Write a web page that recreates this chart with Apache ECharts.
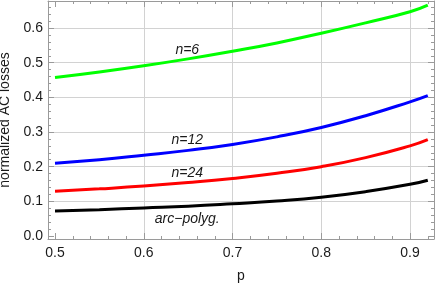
<!DOCTYPE html>
<html>
<head>
<meta charset="utf-8">
<script src="https://cdn.jsdelivr.net/npm/echarts@6/dist/echarts.min.js"></script>
<style>
html,body{margin:0;padding:0;background:#fff;}
#chart{width:436px;height:286px;}
</style>
</head>
<body>
<div id="chart"></div>
<script>
// ---- data ----
const pValues = [0.5, 0.55, 0.6, 0.65, 0.7, 0.75, 0.8, 0.85, 0.9, 0.92];
const n6 =       [0.457, 0.473, 0.491, 0.511, 0.533, 0.557, 0.585, 0.615, 0.647, 0.666];
const n12 =      [0.210, 0.220, 0.233, 0.247, 0.264, 0.286, 0.313, 0.347, 0.387, 0.405];
const n24 =      [0.129, 0.136, 0.144, 0.154, 0.166, 0.181, 0.200, 0.226, 0.260, 0.278];
const arcPolyg = [0.072, 0.076, 0.081, 0.086, 0.093, 0.101, 0.112, 0.128, 0.149, 0.161];
const seriesNames = ['n=6', 'n=12', 'n=24', 'arc\u2212polyg.'];
const labelCoords = [[0.649, 0.536], [0.649, 0.277], [0.649, 0.182], [0.649, 0.049]];

const xMajorTicks = [0.5, 0.6, 0.7, 0.8, 0.9];
const xGridTicks = [0.6, 0.7, 0.8, 0.9];
const xMinorTicks = [0.52, 0.54, 0.56, 0.58, 0.62, 0.64, 0.66, 0.68, 0.72, 0.74, 0.76, 0.78, 0.82, 0.84, 0.86, 0.88, 0.92];
const yMajorTicks = [0.0, 0.1, 0.2, 0.3, 0.4, 0.5, 0.6];
const yGridTicks = [0.1, 0.2, 0.3, 0.4, 0.5, 0.6];
const yMinorTicks = [0.02, 0.04, 0.06, 0.08, 0.12, 0.14, 0.16, 0.18, 0.22, 0.24, 0.26, 0.28, 0.32, 0.34, 0.36, 0.38, 0.42, 0.44, 0.46, 0.48, 0.52, 0.54, 0.56, 0.58, 0.62, 0.64, 0.66];

// ---- styling ----
const XMIN = 0.4921, XMAX = 0.927, YMIN = -0.0087, YMAX = 0.678;
const FRAME = '#9a9a9a', GRID = '#d2d2d2', TEXT = '#1a1a1a';
const FONT = '"Liberation Sans", Arial, sans-serif';
const colors = ['#00ff00', '#0000ff', '#ff0000', '#000000'];
const seriesData = [n6, n12, n24, arcPolyg];

function mkAxis(kind, position, opts) {
  const ax = {
    type: 'value', min: kind === 'x' ? XMIN : YMIN, max: kind === 'x' ? XMAX : YMAX,
    position: position, gridIndex: 0,
    axisLine: { show: !!opts.line, onZero: false, lineStyle: { color: FRAME, width: 1 } },
    axisTick: { show: !!opts.ticks, inside: true, length: opts.len || 6,
      lineStyle: { color: FRAME, width: 1 } },
    axisLabel: { show: false },
    splitLine: { show: !!opts.split, lineStyle: { color: GRID, width: 1 } },
    minorTick: { show: false }, minorSplitLine: { show: false }
  };
  if (opts.ticks || opts.split) ax.axisTick.customValues = opts.ticks || opts.split;
  if (opts.labels) {
    ax.axisLabel = { show: true, customValues: opts.labels, color: TEXT, fontSize: 14,
      fontFamily: FONT, margin: kind === 'x' ? 7 : 5,
      formatter: v => Number(v).toFixed(1) };
  }
  if (opts.name) {
    Object.assign(ax, opts.name);
  }
  return ax;
}

const xAxes = [
  mkAxis('x', 'bottom', { line: true, ticks: xMajorTicks, len: 6, labels: xMajorTicks,
    name: { name: 'p', nameLocation: 'middle', nameGap: 30,
      nameTextStyle: { color: TEXT, fontSize: 14, fontFamily: FONT } } }),
  mkAxis('x', 'bottom', { ticks: xMinorTicks, len: 3 }),
  mkAxis('x', 'bottom', { split: xGridTicks }),
  mkAxis('x', 'top', { line: true, ticks: xMajorTicks, len: 6 }),
  mkAxis('x', 'top', { ticks: xMinorTicks, len: 3 })
];
xAxes[2].axisTick.show = false;

const yAxes = [
  mkAxis('y', 'left', { line: true, ticks: yMajorTicks, len: 6, labels: yMajorTicks,
    name: { name: 'normalized AC losses', nameLocation: 'middle', nameGap: 28, nameRotate: 90,
      nameTextStyle: { color: TEXT, fontSize: 14, fontFamily: FONT } } }),
  mkAxis('y', 'left', { ticks: yMinorTicks, len: 3 }),
  mkAxis('y', 'left', { split: yGridTicks }),
  mkAxis('y', 'right', { line: true, ticks: yMajorTicks, len: 6 }),
  mkAxis('y', 'right', { ticks: yMinorTicks, len: 3 })
];
yAxes[2].axisTick.show = false;

const series = seriesData.map((vals, i) => ({
  type: 'line', name: seriesNames[i], xAxisIndex: 0, yAxisIndex: 0,
  data: pValues.map((p, j) => [p, vals[j]]),
  showSymbol: false, smooth: 0.5, z: 5 - i,
  lineStyle: { color: colors[i], width: 3 },
  itemStyle: { color: colors[i] },
  markPoint: {
    symbol: 'circle', symbolSize: 0, silent: true,
    itemStyle: { color: 'rgba(0,0,0,0)' },
    label: { show: true, position: 'inside', formatter: seriesNames[i], color: TEXT,
      fontSize: 14, fontStyle: 'italic', fontFamily: FONT },
    data: [{ coord: labelCoords[i] }]
  }
}));

const chart = echarts.init(document.getElementById('chart'), null, { renderer: 'canvas' });
chart.setOption({
  animation: false,
  backgroundColor: '#ffffff',
  grid: { left: 48, right: 2, top: 1, bottom: 47, containLabel: false, outerBoundsMode: 'none' },
  xAxis: xAxes,
  yAxis: yAxes,
  series: series
});
</script>
</body>
</html>
